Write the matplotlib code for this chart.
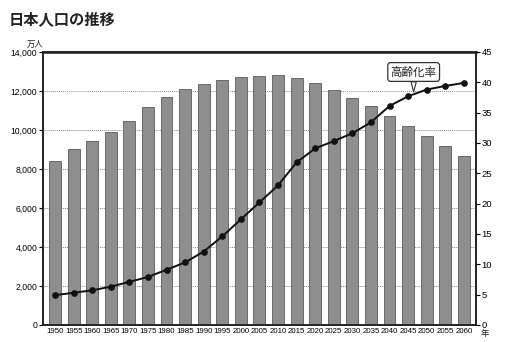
import matplotlib.pyplot as plt
import numpy as np

plt.rcParams['font.family'] = ['Noto Sans CJK JP', 'DejaVu Sans']

YEARS = [1950, 1955, 1960, 1965, 1970, 1975, 1980, 1985, 1990, 1995, 2000,
         2005, 2010, 2015, 2020, 2025, 2030, 2035, 2040, 2045, 2050, 2055, 2060]
POPULATION = [8411, 9008, 9430, 9921, 10467, 11194, 11706, 12105, 12361, 12557,
              12693, 12777, 12806, 12660, 12410, 12066, 11662, 11212, 10728,
              10221, 9708, 9193, 8674]
AGING_RATE = [4.9, 5.3, 5.7, 6.3, 7.1, 7.9, 9.1, 10.3, 12.1, 14.6, 17.4, 20.2,
              23.0, 26.8, 29.1, 30.3, 31.6, 33.4, 36.1, 37.7, 38.8, 39.4, 39.9]

BAR_COLOR = '#8e8e8e'
EDGE_COLOR = '#5a5a5a'

fig = plt.figure(figsize=(5.16, 3.42), dpi=100)
fig.patch.set_facecolor('white')
ax = fig.add_axes([0.0833, 0.05, 0.839, 0.798])
ax2 = ax.twinx()

x = np.arange(len(YEARS))

# population bars on the left axis
ax.bar(x, POPULATION, width=0.64, color=BAR_COLOR, edgecolor=EDGE_COLOR,
       linewidth=0.6, zorder=2)
ax.set_ylim(0, 14000)
ax.set_yticks(range(0, 14001, 2000))
ax.set_yticklabels([f'{v:,}' for v in range(0, 14001, 2000)],
                   family=['Liberation Sans', 'DejaVu Sans'])
for v in range(2000, 14000, 2000):
    ax.axhline(v, color='#888888', linestyle=(0, (1, 1)), linewidth=0.7, zorder=1)
ax.set_xlim(-0.65, len(YEARS) - 0.35)
ax.set_xticks(x)
ax.set_xticklabels([str(y) for y in YEARS],
                   family=['Liberation Sans', 'DejaVu Sans'])
ax.tick_params(axis='x', length=0, labelsize=5.7, pad=2)
ax.tick_params(axis='y', length=3, width=0.8, labelsize=6.2, pad=1)

# aging rate line on the right axis
ax2.plot(x, AGING_RATE, color='#111111', linewidth=1.4, marker='o',
         markersize=3.8, zorder=4)
ax2.set_ylim(0, 45)
ax2.set_yticks(range(0, 46, 5))
ax2.set_yticklabels([str(v) for v in range(0, 46, 5)],
                    family=['Liberation Sans', 'DejaVu Sans'])
ax2.tick_params(axis='y', length=3, width=0.8, labelsize=6.8, pad=1)

for a in (ax, ax2):
    for s in a.spines.values():
        s.set_linewidth(1.2)
        s.set_color('#222222')
ax.spines['top'].set_linewidth(1.8)

ax2.annotate('高齢化率', xy=(19.3, 38.4), xytext=(19.3, 41.7),
             ha='center', va='center', fontsize=8.3, color='#222222',
             bbox=dict(boxstyle='round,pad=0.25', facecolor='white',
                       edgecolor='#333333', linewidth=0.9),
             arrowprops=dict(arrowstyle='wedge,tail_width=0.45',
                             facecolor='white', edgecolor='#333333', lw=0.8,
                             shrinkA=0, shrinkB=0))

fig.text(0.016, 0.945, '日本人口の推移', fontsize=11, fontweight='bold',
         color='#222222', ha='left', va='center')
fig.text(0.069, 0.87, '万人', fontsize=6, color='#222222', ha='center',
         va='center')
fig.text(0.94, 0.025, '年', fontsize=6, color='#222222', ha='center',
         va='center')

plt.savefig('out.png', dpi=100, facecolor='white')
